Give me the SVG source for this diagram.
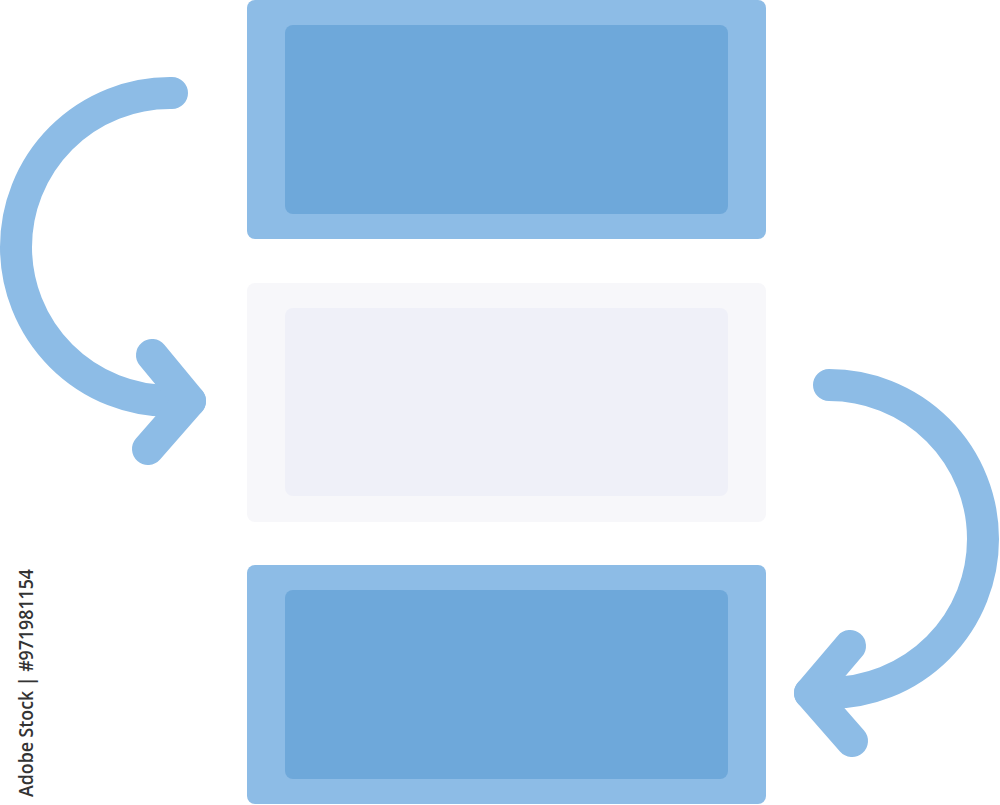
<svg xmlns="http://www.w3.org/2000/svg" width="1000" height="805" viewBox="0 0 1000 805">
  <style>
    .outer { fill: #8dbce6; }
    .inner { fill: #6ea8da; }
    .outer-light { fill: #f7f7fa; }
    .inner-light { fill: #eff0f8; }
    .arrow { fill: none; stroke: #8dbce6; stroke-width: 32; stroke-linecap: round; stroke-linejoin: round; }
    .wm { font-family: "Open Sans", "Liberation Sans", sans-serif; font-size: 20px; font-weight: 600; fill: #333333; }
  </style>
  <rect width="1000" height="805" fill="#ffffff"/>
  <g id="node-top">
    <rect class="outer" x="247" y="0" width="519" height="239" rx="8"/>
    <rect class="inner" x="285" y="25" width="443" height="189" rx="8"/>
  </g>
  <g id="node-middle">
    <rect class="outer-light" x="247" y="283" width="519" height="239" rx="8"/>
    <rect class="inner-light" x="285" y="308" width="443" height="188" rx="8"/>
  </g>
  <g id="node-bottom">
    <rect class="outer" x="247" y="565" width="519" height="239" rx="8"/>
    <rect class="inner" x="285" y="590" width="443" height="189" rx="8"/>
  </g>
  <g id="connectors">
    <path class="arrow" d="M172,93 L170,93 A154,154 0 0 0 170,401 L190,401"/>
    <path class="arrow" d="M152,355 L190,401 L148,449"/>
    <path class="arrow" d="M829,385 A154,154 0 0 1 829,693 L810,693"/>
    <path class="arrow" d="M850,646 L810,693 L852,741"/>
  </g>
  <text class="wm" transform="translate(33,683) rotate(-90)" text-anchor="middle" textLength="228" lengthAdjust="spacingAndGlyphs">Adobe Stock | #971981154</text>
</svg>
